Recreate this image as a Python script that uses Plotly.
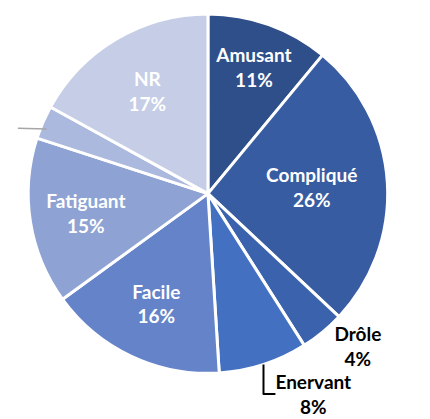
import plotly.graph_objects as go

labels = ["Amusant", "Compliqué", "Drôle", "Enervant", "Facile", "Fatiguant", "", "NR"]
values = [11, 26, 4, 8, 16, 15, 3, 17]
colors = ["#2F4F8A", "#385CA2", "#3A62AD", "#4370C1", "#6483C8", "#8EA2D3", "#ABB9DE", "#C5CEE6"]
positions = ["inside", "inside", "outside", "outside", "inside", "inside", "none", "inside"]
text_colors = ["white", "white", "black", "black", "white", "white", "white", "white"]

texts = [f"<b>{l}<br>{v}%</b>" if l else "" for l, v in zip(labels, values)]

fig = go.Figure(go.Pie(
    labels=[l if l else " " for l in labels],
    values=values,
    sort=False,
    direction="clockwise",
    rotation=0,
    text=texts,
    textinfo="text",
    textposition=positions,
    insidetextorientation="horizontal",
    marker=dict(colors=colors, line=dict(color="white", width=3)),
    textfont=dict(family="Lato, Carlito, Calibri, sans-serif", size=19, color=text_colors),
    domain=dict(x=[0.047, 0.883], y=[0.127, 0.987]),
    hoverinfo="label+percent",
))

fig.update_layout(
    width=430, height=419,
    margin=dict(l=0, r=0, t=0, b=0),
    showlegend=False,
    paper_bgcolor="white",
    plot_bgcolor="white",
    shapes=[dict(type="line", xref="paper", yref="paper",
                 x0=0.023, x1=0.09, y0=0.713, y1=0.711,
                 line=dict(color="#A6A6A6", width=1.5))],
)

fig.write_html("out.html")
